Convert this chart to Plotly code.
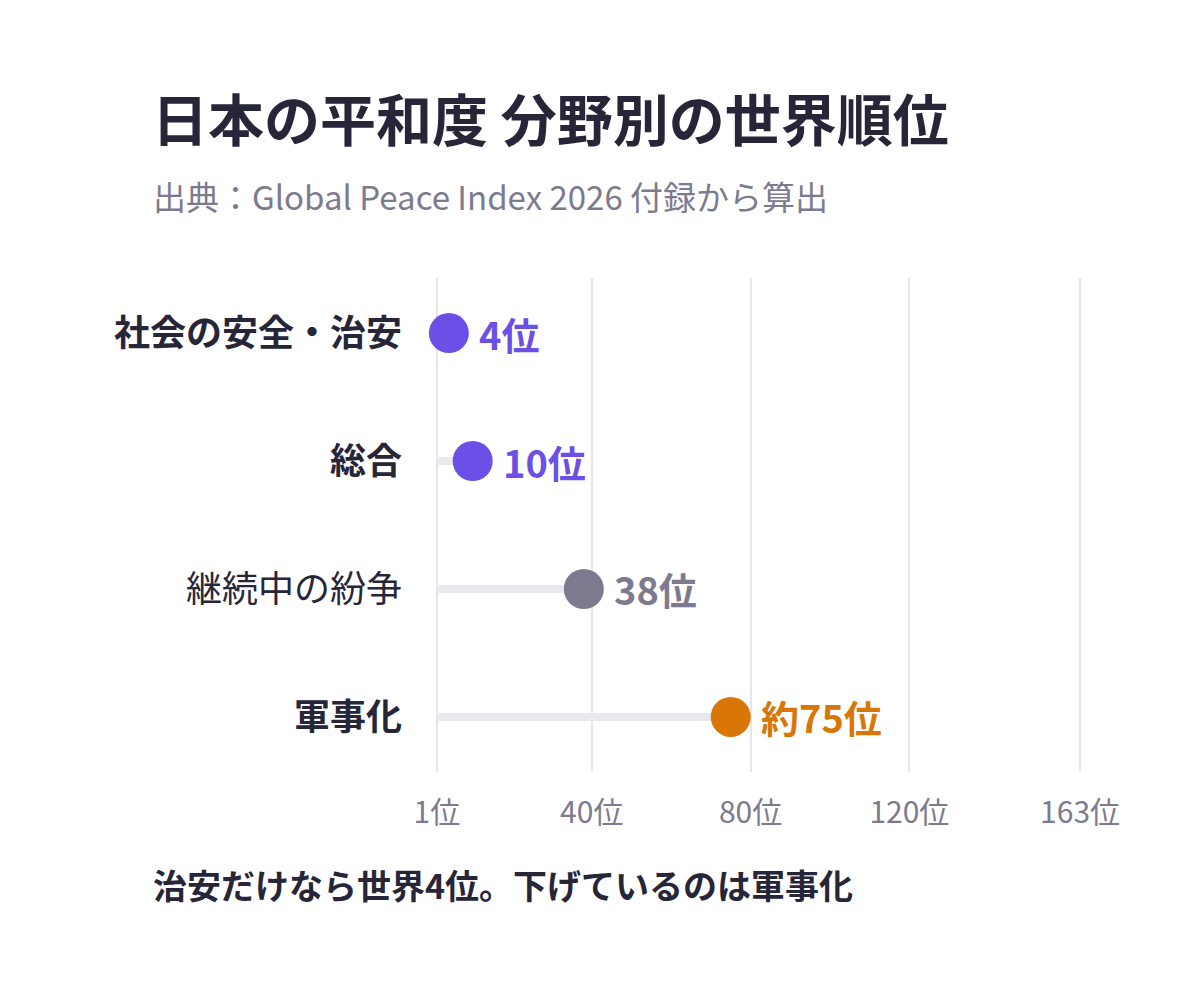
import plotly.graph_objects as go

categories = ["社会の安全・治安", "総合", "継続中の紛争", "軍事化"]
ranks = [4, 10, 38, 75]
rank_labels = ["4位", "10位", "38位", "約75位"]
bold_cat = [True, True, False, True]
colors = ["#6B4FE6", "#6B4FE6", "#7D7A8F", "#D97706"]
tick_vals = [1, 40, 80, 120, 163]
tick_text = ["1位", "40位", "80位", "120位", "163位"]

FONT = "Noto Sans CJK JP"
DARK = "#272638"
GREY = "#7D7A8F"

fig = go.Figure()

# stems from rank 1
for cat, r in zip(categories, ranks):
    fig.add_trace(go.Scatter(x=[1, r], y=[cat, cat], mode="lines",
                             line=dict(color="#E8E8EE", width=8),
                             hoverinfo="skip", showlegend=False))

fig.add_trace(go.Scatter(x=ranks, y=categories, mode="markers",
                         marker=dict(size=40, color=colors),
                         cliponaxis=False, showlegend=False))

for cat, r, lab, c in zip(categories, ranks, rank_labels, colors):
    fig.add_annotation(x=r, y=cat, text="<b>" + lab + "</b>", showarrow=False,
                       xanchor="left", xshift=28,
                       font=dict(size=38, color=c, family=FONT))

ytext = ["<b>" + c + "</b>" if b else c for c, b in zip(categories, bold_cat)]

fig.update_layout(
    width=1200, height=992,
    paper_bgcolor="white", plot_bgcolor="white",
    margin=dict(l=421, r=120, t=270, b=228),
    font=dict(family=FONT, color=DARK),
    title=dict(text="<b>日本の平和度 分野別の世界順位</b>", x=0.12, y=0.886,
               xanchor="left", yanchor="middle",
               font=dict(size=56, color=DARK, family=FONT)),
)
# paper x relative to plot width (1200-421-120=659)
fig.add_annotation(text="出典：Global Peace Index 2026 付録から算出",
                   xref="paper", yref="paper", x=-0.422, y=1.167,
                   xanchor="left", yanchor="middle", showarrow=False,
                   font=dict(size=33, color=GREY, family=FONT))
fig.add_annotation(text="<b>治安だけなら世界4位。下げているのは軍事化</b>",
                   xref="paper", yref="paper", x=-0.422, y=-0.228,
                   xanchor="left", yanchor="middle", showarrow=False,
                   font=dict(size=34, color=DARK, family=FONT))

fig.update_xaxes(range=[-1, 165], tickvals=tick_vals, ticktext=tick_text,
                 showgrid=True, gridcolor="#E5E5EA", gridwidth=2,
                 zeroline=False, showline=False, ticks="",
                 ticklabelstandoff=20,
                 tickfont=dict(size=30, color=GREY, family=FONT))
fig.update_yaxes(type="category", range=[3.43, -0.43],
                 tickvals=categories, ticktext=ytext,
                 showgrid=False, zeroline=False, ticks="",
                 ticklabelstandoff=26,
                 tickfont=dict(size=36, color=DARK, family=FONT))

fig.write_html("out.html")
